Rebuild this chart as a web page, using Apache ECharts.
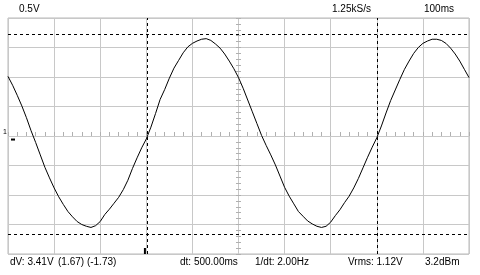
<!DOCTYPE html>
<html>
<head>
<meta charset="utf-8">
<script src="https://cdn.jsdelivr.net/npm/echarts@6/dist/echarts.min.js"></script>
<style>
html,body{margin:0;padding:0;background:#fff;}
#chart{width:480px;height:275px;}
</style>
</head>
<body>
<div id="chart"></div>
<script>
// Sample times (ms) across the 10-division screen (100 ms/div)
const timesMs = [0,10,20,30,40,50,60,70,80,90,100,110,120,130,140,150,160,170,180,190,200,
  210,220,230,240,250,260,270,280,290,300,310,320,330,340,350,360,370,380,390,400,
  410,420,430,440,450,460,470,480,490,500,510,520,530,540,550,560,570,580,590,600,
  610,620,630,640,650,660,670,680,690,700,710,720,730,740,750,760,770,780,790,800,
  810,820,830,840,850,860,870,880,890,900,910,920,930,940,950,960,970,980,990,1000];
// Trace voltage (V, relative to screen centre, 0.5 V/div)
const voltsV = [1.01,0.86,0.69,0.51,0.31,0.09,-0.11,-0.32,-0.53,-0.71,-0.88,
  -1.03,-1.16,-1.28,-1.37,-1.45,-1.50,-1.53,-1.55,-1.52,-1.45,
  -1.33,-1.24,-1.14,-1.04,-0.91,-0.75,-0.55,-0.37,-0.20,-0.05,
  0.15,0.38,0.62,0.79,0.98,1.15,1.28,1.41,1.51,1.57,
  1.61,1.64,1.65,1.62,1.56,1.49,1.39,1.27,1.14,0.99,
  0.81,0.61,0.41,0.21,0.01,-0.16,-0.32,-0.49,-0.68,-0.87,
  -1.02,-1.15,-1.28,-1.36,-1.44,-1.49,-1.53,-1.55,-1.53,-1.46,
  -1.35,-1.25,-1.13,-1.02,-0.88,-0.72,-0.54,-0.36,-0.19,-0.03,
  0.17,0.39,0.60,0.78,0.96,1.13,1.27,1.40,1.50,1.57,
  1.61,1.64,1.64,1.62,1.57,1.49,1.39,1.27,1.13,0.99];
// Cursors
const timeCursorsMs = [302, 802];
const voltCursorsV = [1.73, -1.66];
const triggerTimeMs = 297;
const triggerLevelV = -0.06;
// Readout texts
const topTexts = ['0.5V', '1.25kS/s', '100ms'];
const bottomTexts = ['dV: 3.41V', '(1.67) (-1.73)', 'dt: 500.00ms', '1/dt: 2.00Hz', 'Vrms: 1.12V', '3.2dBm'];
const channelLabel = '1';

const chart = echarts.init(document.getElementById('chart'), null, {renderer: 'canvas'});
const gridCol = '#c8c8c8';
const tickCol = '#b0b0b0';
const font = 'Liberation Sans, Arial, sans-serif';
const txt = (s, x, y, size) => ({type: 'text', left: x, top: y, style: {text: s, fill: '#000', font: (size || 10) + 'px ' + font}});

chart.setOption({
  animation: false,
  backgroundColor: '#fff',
  grid: {left: 8, right: 11, top: 18, bottom: 21, show: true, borderColor: '#b8b8b8', borderWidth: 1, backgroundColor: '#fff'},
  xAxis: [
    {type: 'value', min: 0, max: 1000, interval: 100,
     axisLine: {show: false}, axisTick: {show: false}, axisLabel: {show: false},
     splitLine: {show: true, lineStyle: {color: gridCol, width: 1}}},
    {type: 'value', min: 0, max: 1000, interval: 100, position: 'bottom', offset: -116,
     axisLine: {show: false}, axisLabel: {show: false}, splitLine: {show: false},
     axisTick: {show: true, inside: true, length: 4, lineStyle: {color: tickCol}},
     minorTick: {show: true, splitNumber: 5, length: 4, lineStyle: {color: tickCol}}}
  ],
  yAxis: [
    {type: 'value', min: -2, max: 2, interval: 0.5,
     axisLine: {show: false}, axisTick: {show: false}, axisLabel: {show: false},
     splitLine: {show: true, lineStyle: {color: gridCol, width: 1}}},
    {type: 'value', min: -2, max: 2, interval: 0.5, position: 'left', offset: -228,
     axisLine: {show: false}, axisLabel: {show: false}, splitLine: {show: false},
     axisTick: {show: true, inside: true, length: 5, lineStyle: {color: tickCol}},
     minorTick: {show: true, splitNumber: 5, length: 5, lineStyle: {color: tickCol}}}
  ],
  series: [{
    type: 'line',
    xAxisIndex: 0, yAxisIndex: 0,
    data: timesMs.map((t, i) => [t, voltsV[i]]),
    showSymbol: false, symbol: 'none',
    lineStyle: {color: '#000', width: 1},
    z: 5,
    markLine: {
      silent: true, symbol: ['none', 'none'], animation: false,
      label: {show: false},
      lineStyle: {color: '#000', width: 1, type: [3, 3]},
      data: timeCursorsMs.map(t => ({xAxis: t})).concat(voltCursorsV.map(v => ({yAxis: v})))
    },
    markPoint: {
      silent: true, animation: false, label: {show: false},
      itemStyle: {color: '#000'},
      data: [
        {coord: [triggerTimeMs, -2], symbol: 'rect', symbolSize: [2, 6], symbolOffset: [0, -3]},
        {coord: [0, triggerLevelV], symbol: 'rect', symbolSize: [4, 2], symbolOffset: [5, 0]}
      ]
    }
  }],
  graphic: [
    txt(topTexts[0], 19, 4),
    txt(topTexts[1], 332, 4),
    txt(topTexts[2], 424, 4),
    txt(bottomTexts[0], 10, 257),
    txt(bottomTexts[1], 58, 257),
    txt(bottomTexts[2], 180, 257),
    txt(bottomTexts[3], 255, 257),
    txt(bottomTexts[4], 348, 257),
    txt(bottomTexts[5], 425, 257),
    txt(channelLabel, 3, 129, 7)
  ]
});
</script>
</body>
</html>
